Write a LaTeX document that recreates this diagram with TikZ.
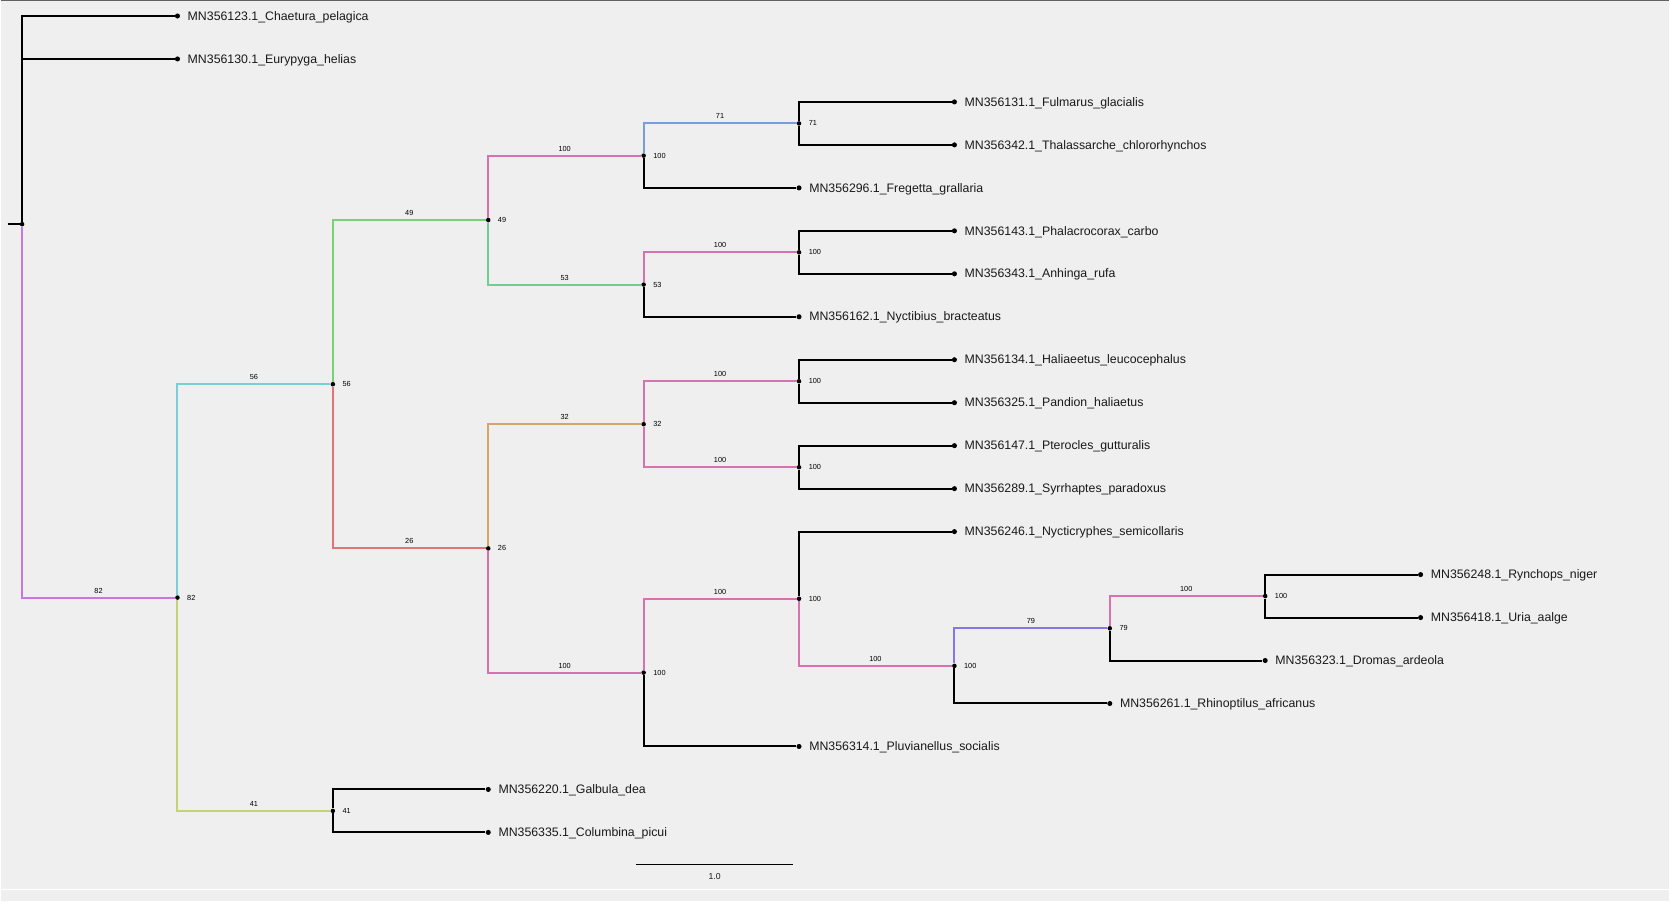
\documentclass[tikz,border=0pt]{standalone}
\usepackage{fontspec}
\setmainfont{Liberation Sans}
\definecolor{bgc}{RGB}{239,239,239}
\definecolor{cpurple}{RGB}{202,118,222}
\definecolor{ccyan}{RGB}{118,208,214}
\definecolor{colive}{RGB}{196,210,122}
\definecolor{cgreen}{RGB}{120,208,120}
\definecolor{cgreenb}{RGB}{112,206,146}
\definecolor{cred}{RGB}{222,118,120}
\definecolor{cpink}{RGB}{214,114,176}
\definecolor{cblue}{RGB}{120,156,222}
\definecolor{corange}{RGB}{212,166,104}
\definecolor{cviolet}{RGB}{136,118,230}
\begin{document}
\begin{tikzpicture}[x=0.75pt,y=-0.75pt,
  treept/.style={circle,fill=black,inner sep=0pt,minimum size=3.4pt},
  tippt/.style={circle,fill=black,inner sep=0pt,minimum size=3.8pt},
  br/.style={line width=1.5pt,line join=miter},
  tiplab/.style={anchor=base west,inner sep=0pt,xshift=7.5pt,yshift=-3.15pt,
    font=\fontsize{9.25}{11}\selectfont,text=black!90},
  nlab/.style={anchor=base west,inner sep=0pt,xshift=7.1pt,yshift=-1.9pt,
    font=\fontsize{5.5}{6.5}\selectfont,text=black},
  blab/.style={pos=0.75,anchor=base,inner sep=0pt,yshift=3.4pt,
    font=\fontsize{5.5}{6.5}\selectfont,text=black},
]
% canvas and frame lines
\fill[bgc] (0,0) rectangle (1670,902);
\draw[line width=0.9pt,black!62] (0,0.6) -- (1670,0.6);
\draw[line width=0.75pt,white] (0,890.5) -- (1670,890.5);

% tree: one x unit per branch length 1.0, one y unit per leaf row
\begin{scope}[xshift=16.125pt,yshift=-12pt,x=116.625pt,y=-32.25pt]
  % internal nodes
  \node[treept] (root)  at (0,4.84505) {};
  \node[treept] (n82)   at (1,13.53516) {};
  \node[treept] (n56)   at (2,8.57031) {};
  \node[treept] (n41)   at (2,18.5) {};
  \node[treept] (n49)   at (3,4.75) {};
  \node[treept] (n26)   at (3,12.39063) {};
  \node[treept] (n100a) at (4,3.25) {};
  \node[treept] (n53)   at (4,6.25) {};
  \node[treept] (n32)   at (4,9.5) {};
  \node[treept] (n100c) at (4,15.28125) {};
  \node[treept] (n71)   at (5,2.5) {};
  \node[treept] (n100b) at (5,5.5) {};
  \node[treept] (n100h) at (5,8.5) {};
  \node[treept] (n100i) at (5,10.5) {};
  \node[treept] (n100d) at (5,13.5625) {};
  \node[treept] (n100e) at (6,15.125) {};
  \node[treept] (n79)   at (7,14.25) {};
  \node[treept] (n100f) at (8,13.5) {};
  \coordinate (stub) at (-0.0932,4.84505);

  % leaves
  \node[tippt] (t0)  at (1,0)  {};
  \node[tippt] (t1)  at (1,1)  {};
  \node[tippt] (t2)  at (6,2)  {};
  \node[tippt] (t3)  at (6,3)  {};
  \node[tippt] (t4)  at (5,4)  {};
  \node[tippt] (t5)  at (6,5)  {};
  \node[tippt] (t6)  at (6,6)  {};
  \node[tippt] (t7)  at (5,7)  {};
  \node[tippt] (t8)  at (6,8)  {};
  \node[tippt] (t9)  at (6,9)  {};
  \node[tippt] (t10) at (6,10) {};
  \node[tippt] (t11) at (6,11) {};
  \node[tippt] (t12) at (6,12) {};
  \node[tippt] (t13) at (9,13) {};
  \node[tippt] (t14) at (9,14) {};
  \node[tippt] (t15) at (8,15) {};
  \node[tippt] (t16) at (7,16) {};
  \node[tippt] (t17) at (5,17) {};
  \node[tippt] (t18) at (3,18) {};
  \node[tippt] (t19) at (3,19) {};

  % leaf names
  \node[tiplab] at (t0)  {MN356123.1\_Chaetura\_pelagica};
  \node[tiplab] at (t1)  {MN356130.1\_Eurypyga\_helias};
  \node[tiplab] at (t2)  {MN356131.1\_Fulmarus\_glacialis};
  \node[tiplab] at (t3)  {MN356342.1\_Thalassarche\_chlororhynchos};
  \node[tiplab] at (t4)  {MN356296.1\_Fregetta\_grallaria};
  \node[tiplab] at (t5)  {MN356143.1\_Phalacrocorax\_carbo};
  \node[tiplab] at (t6)  {MN356343.1\_Anhinga\_rufa};
  \node[tiplab] at (t7)  {MN356162.1\_Nyctibius\_bracteatus};
  \node[tiplab] at (t8)  {MN356134.1\_Haliaeetus\_leucocephalus};
  \node[tiplab] at (t9)  {MN356325.1\_Pandion\_haliaetus};
  \node[tiplab] at (t10) {MN356147.1\_Pterocles\_gutturalis};
  \node[tiplab] at (t11) {MN356289.1\_Syrrhaptes\_paradoxus};
  \node[tiplab] at (t12) {MN356246.1\_Nycticryphes\_semicollaris};
  \node[tiplab] at (t13) {MN356248.1\_Rynchops\_niger};
  \node[tiplab] at (t14) {MN356418.1\_Uria\_aalge};
  \node[tiplab] at (t15) {MN356323.1\_Dromas\_ardeola};
  \node[tiplab] at (t16) {MN356261.1\_Rhinoptilus\_africanus};
  \node[tiplab] at (t17) {MN356314.1\_Pluvianellus\_socialis};
  \node[tiplab] at (t18) {MN356220.1\_Galbula\_dea};
  \node[tiplab] at (t19) {MN356335.1\_Columbina\_picui};

  % support values at internal nodes
  \foreach \n/\v in {n82/82,n56/56,n41/41,n49/49,n26/26,n100a/100,n53/53,
      n32/32,n100c/100,n71/71,n100b/100,n100h/100,n100i/100,n100d/100,
      n100e/100,n79/79,n100f/100}
    \node[nlab] at (\n) {\v};

  % uncoloured branches
  \draw[br] (stub) -- (root);
  \draw[br] (root) |- (t0);
  \draw[br] (root) |- (t1);
  \draw[br] (n71) |- (t2);
  \draw[br] (n71) |- (t3);
  \draw[br] (n100a) |- (t4);
  \draw[br] (n100b) |- (t5);
  \draw[br] (n100b) |- (t6);
  \draw[br] (n53) |- (t7);
  \draw[br] (n100h) |- (t8);
  \draw[br] (n100h) |- (t9);
  \draw[br] (n100i) |- (t10);
  \draw[br] (n100i) |- (t11);
  \draw[br] (n100d) |- (t12);
  \draw[br] (n100f) |- (t13);
  \draw[br] (n100f) |- (t14);
  \draw[br] (n79) |- (t15);
  \draw[br] (n100e) |- (t16);
  \draw[br] (n100c) |- (t17);
  \draw[br] (n41) |- (t18);
  \draw[br] (n41) |- (t19);

  % coloured branches with their support values
  \draw[br,cpurple] (root) |- node[blab] {82} (n82);
  \draw[br,ccyan]   (n82) |- node[blab] {56} (n56);
  \draw[br,colive]  (n82) |- node[blab] {41} (n41);
  \draw[br,cgreen]  (n56) |- node[blab] {49} (n49);
  \draw[br,cred]    (n56) |- node[blab] {26} (n26);
  \draw[br,cpink]   (n49) |- node[blab] {100} (n100a);
  \draw[br,cgreenb] (n49) |- node[blab] {53} (n53);
  \draw[br,cblue]   (n100a) |- node[blab] {71} (n71);
  \draw[br,cpink]   (n53) |- node[blab] {100} (n100b);
  \draw[br,corange] (n26) |- node[blab] {32} (n32);
  \draw[br,cpink]   (n26) |- node[blab] {100} (n100c);
  \draw[br,cpink]   (n32) |- node[blab] {100} (n100h);
  \draw[br,cpink]   (n32) |- node[blab] {100} (n100i);
  \draw[br,cpink]   (n100c) |- node[blab] {100} (n100d);
  \draw[br,cpink]   (n100d) |- node[blab] {100} (n100e);
  \draw[br,cviolet] (n100e) |- node[blab] {79} (n79);
  \draw[br,cpink]   (n79) |- node[blab] {100} (n100f);
\end{scope}

% scale bar
\coordinate (sbA) at (636,865.5);
\coordinate (sbB) at (793,865.5);
\draw[line width=0.75pt] (sbA) -- (sbB);
\node[inner sep=0pt,font=\fontsize{6.5}{8}\selectfont,text=black!90] (sbl) at (714.5,877.5) {1.0};
\end{tikzpicture}
\end{document}
